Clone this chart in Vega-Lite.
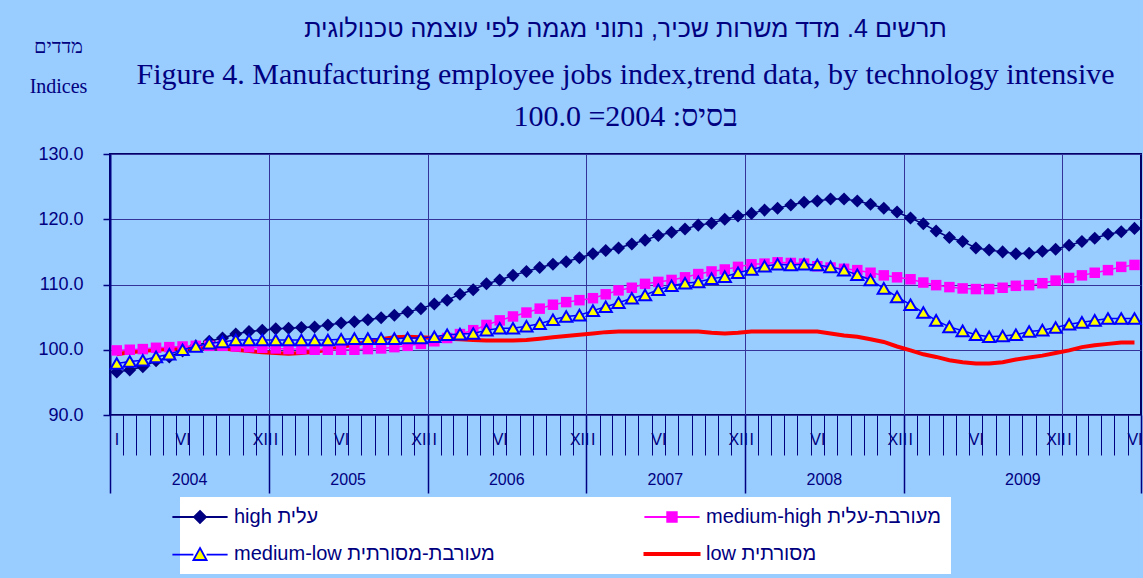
{
  "$schema": "https://vega.github.io/schema/vega-lite/v6.json",
  "width": 1031,
  "height": 261,
  "autosize": "none",
  "padding": {"left": 110, "top": 154, "right": 2, "bottom": 163},
  "background": "#99CCFF",
  "config": {
    "view": {"stroke": "#000066", "strokeWidth": 2, "fill": "white", "fillOpacity": 1},
    "font": "Liberation Sans",
    "axis": {"labelColor": "#000080", "tickColor": "#000080", "domainColor": "#000080", "gridColor": "#333399", "titleColor": "#000080", "labelFont": "Liberation Sans"}
  },
  "title": {
    "text": "\u202bתרשים 4. מדד משרות שכיר, נתוני מגמה לפי עוצמה טכנולוגית\u202c",
    "subtitle": ["Figure 4. Manufacturing employee jobs index,trend data, by technology intensive", "\u202bבסיס: 2004= 100.0\u202c"],
    "anchor": "middle",
    "frame": "group",
    "font": "Liberation Sans",
    "fontSize": 25,
    "fontWeight": "normal",
    "color": "#000080",
    "subtitleFont": "Liberation Serif",
    "subtitleFontSize": 30,
    "subtitleColor": "#000080",
    "subtitleLineHeight": 42,
    "subtitlePadding": 18,
    "offset": -96
  },
  "data": {
    "values": [
      {"d": "2004-01-01", "hi": 96.6, "mh": 99.9, "ml": 97.9, "lo": 99.3},
      {"d": "2004-02-01", "hi": 96.9, "mh": 100.0, "ml": 98.2, "lo": 99.6},
      {"d": "2004-03-01", "hi": 97.4, "mh": 100.1, "ml": 98.4, "lo": 99.8},
      {"d": "2004-04-01", "hi": 98.3, "mh": 100.3, "ml": 98.9, "lo": 100.0},
      {"d": "2004-05-01", "hi": 98.9, "mh": 100.4, "ml": 99.3, "lo": 100.1},
      {"d": "2004-06-01", "hi": 99.8, "mh": 100.5, "ml": 100.0, "lo": 100.2},
      {"d": "2004-07-01", "hi": 100.6, "mh": 100.6, "ml": 100.5, "lo": 100.3},
      {"d": "2004-08-01", "hi": 101.3, "mh": 100.6, "ml": 101.0, "lo": 100.3},
      {"d": "2004-09-01", "hi": 101.8, "mh": 100.6, "ml": 101.2, "lo": 100.2},
      {"d": "2004-10-01", "hi": 102.4, "mh": 100.5, "ml": 101.5, "lo": 100.0},
      {"d": "2004-11-01", "hi": 102.8, "mh": 100.4, "ml": 101.5, "lo": 99.8},
      {"d": "2004-12-01", "hi": 103.0, "mh": 100.3, "ml": 101.5, "lo": 99.6},
      {"d": "2005-01-01", "hi": 103.2, "mh": 100.2, "ml": 101.5, "lo": 99.5},
      {"d": "2005-02-01", "hi": 103.3, "mh": 100.1, "ml": 101.5, "lo": 99.4},
      {"d": "2005-03-01", "hi": 103.4, "mh": 100.1, "ml": 101.5, "lo": 99.5},
      {"d": "2005-04-01", "hi": 103.5, "mh": 100.0, "ml": 101.5, "lo": 99.7},
      {"d": "2005-05-01", "hi": 103.8, "mh": 100.0, "ml": 101.5, "lo": 100.0},
      {"d": "2005-06-01", "hi": 104.1, "mh": 100.0, "ml": 101.6, "lo": 100.4},
      {"d": "2005-07-01", "hi": 104.3, "mh": 100.0, "ml": 101.7, "lo": 100.8},
      {"d": "2005-08-01", "hi": 104.6, "mh": 100.1, "ml": 101.7, "lo": 101.2},
      {"d": "2005-09-01", "hi": 104.9, "mh": 100.2, "ml": 101.7, "lo": 101.6},
      {"d": "2005-10-01", "hi": 105.3, "mh": 100.4, "ml": 101.7, "lo": 101.9},
      {"d": "2005-11-01", "hi": 105.8, "mh": 100.6, "ml": 101.8, "lo": 102.0},
      {"d": "2005-12-01", "hi": 106.3, "mh": 100.9, "ml": 101.8, "lo": 101.9},
      {"d": "2006-01-01", "hi": 107.0, "mh": 101.3, "ml": 102.0, "lo": 101.8},
      {"d": "2006-02-01", "hi": 107.6, "mh": 101.8, "ml": 102.3, "lo": 101.7},
      {"d": "2006-03-01", "hi": 108.5, "mh": 102.4, "ml": 102.4, "lo": 101.6},
      {"d": "2006-04-01", "hi": 109.2, "mh": 103.0, "ml": 102.5, "lo": 101.5},
      {"d": "2006-05-01", "hi": 110.1, "mh": 103.8, "ml": 103.0, "lo": 101.4},
      {"d": "2006-06-01", "hi": 110.7, "mh": 104.5, "ml": 103.3, "lo": 101.4},
      {"d": "2006-07-01", "hi": 111.4, "mh": 105.1, "ml": 103.3, "lo": 101.4},
      {"d": "2006-08-01", "hi": 112.0, "mh": 105.7, "ml": 103.6, "lo": 101.5},
      {"d": "2006-09-01", "hi": 112.6, "mh": 106.3, "ml": 104.0, "lo": 101.7},
      {"d": "2006-10-01", "hi": 113.1, "mh": 106.9, "ml": 104.6, "lo": 101.9},
      {"d": "2006-11-01", "hi": 113.5, "mh": 107.3, "ml": 105.1, "lo": 102.1},
      {"d": "2006-12-01", "hi": 114.1, "mh": 107.6, "ml": 105.3, "lo": 102.3},
      {"d": "2007-01-01", "hi": 114.7, "mh": 107.9, "ml": 106.0, "lo": 102.5},
      {"d": "2007-02-01", "hi": 115.2, "mh": 108.5, "ml": 106.6, "lo": 102.7},
      {"d": "2007-03-01", "hi": 115.6, "mh": 109.1, "ml": 107.2, "lo": 102.8},
      {"d": "2007-04-01", "hi": 116.2, "mh": 109.5, "ml": 107.9, "lo": 102.8},
      {"d": "2007-05-01", "hi": 116.8, "mh": 110.1, "ml": 108.4, "lo": 102.8},
      {"d": "2007-06-01", "hi": 117.5, "mh": 110.4, "ml": 109.2, "lo": 102.8},
      {"d": "2007-07-01", "hi": 118.0, "mh": 110.7, "ml": 109.8, "lo": 102.8},
      {"d": "2007-08-01", "hi": 118.5, "mh": 111.1, "ml": 110.2, "lo": 102.8},
      {"d": "2007-09-01", "hi": 119.1, "mh": 111.6, "ml": 110.4, "lo": 102.8},
      {"d": "2007-10-01", "hi": 119.4, "mh": 112.0, "ml": 110.9, "lo": 102.6},
      {"d": "2007-11-01", "hi": 120.0, "mh": 112.3, "ml": 111.2, "lo": 102.5},
      {"d": "2007-12-01", "hi": 120.5, "mh": 112.7, "ml": 111.8, "lo": 102.6},
      {"d": "2008-01-01", "hi": 120.9, "mh": 113.1, "ml": 112.3, "lo": 102.8},
      {"d": "2008-02-01", "hi": 121.4, "mh": 113.2, "ml": 112.8, "lo": 102.8},
      {"d": "2008-03-01", "hi": 121.7, "mh": 113.4, "ml": 113.1, "lo": 102.8},
      {"d": "2008-04-01", "hi": 122.2, "mh": 113.3, "ml": 113.0, "lo": 102.8},
      {"d": "2008-05-01", "hi": 122.6, "mh": 113.2, "ml": 113.1, "lo": 102.8},
      {"d": "2008-06-01", "hi": 122.8, "mh": 112.8, "ml": 113.0, "lo": 102.8},
      {"d": "2008-07-01", "hi": 123.1, "mh": 112.6, "ml": 112.7, "lo": 102.5},
      {"d": "2008-08-01", "hi": 123.1, "mh": 112.4, "ml": 112.2, "lo": 102.2},
      {"d": "2008-09-01", "hi": 122.8, "mh": 112.2, "ml": 111.5, "lo": 102.0},
      {"d": "2008-10-01", "hi": 122.3, "mh": 111.8, "ml": 110.7, "lo": 101.6},
      {"d": "2008-11-01", "hi": 121.7, "mh": 111.4, "ml": 109.4, "lo": 101.2},
      {"d": "2008-12-01", "hi": 121.1, "mh": 111.1, "ml": 108.1, "lo": 100.5},
      {"d": "2009-01-01", "hi": 120.2, "mh": 110.8, "ml": 106.9, "lo": 99.9},
      {"d": "2009-02-01", "hi": 119.3, "mh": 110.3, "ml": 105.7, "lo": 99.3},
      {"d": "2009-03-01", "hi": 118.2, "mh": 109.9, "ml": 104.5, "lo": 98.9},
      {"d": "2009-04-01", "hi": 117.2, "mh": 109.6, "ml": 103.5, "lo": 98.4},
      {"d": "2009-05-01", "hi": 116.6, "mh": 109.4, "ml": 102.9, "lo": 98.1},
      {"d": "2009-06-01", "hi": 115.6, "mh": 109.3, "ml": 102.3, "lo": 97.9},
      {"d": "2009-07-01", "hi": 115.3, "mh": 109.3, "ml": 102.0, "lo": 97.9},
      {"d": "2009-08-01", "hi": 115.0, "mh": 109.5, "ml": 102.1, "lo": 98.1},
      {"d": "2009-09-01", "hi": 114.7, "mh": 109.8, "ml": 102.3, "lo": 98.5},
      {"d": "2009-10-01", "hi": 114.8, "mh": 109.9, "ml": 102.8, "lo": 98.8},
      {"d": "2009-11-01", "hi": 115.1, "mh": 110.2, "ml": 103.0, "lo": 99.1},
      {"d": "2009-12-01", "hi": 115.4, "mh": 110.6, "ml": 103.4, "lo": 99.5},
      {"d": "2010-01-01", "hi": 116.0, "mh": 111.0, "ml": 103.9, "lo": 99.9},
      {"d": "2010-02-01", "hi": 116.6, "mh": 111.4, "ml": 104.2, "lo": 100.4},
      {"d": "2010-03-01", "hi": 117.1, "mh": 111.8, "ml": 104.5, "lo": 100.7},
      {"d": "2010-04-01", "hi": 117.7, "mh": 112.2, "ml": 104.8, "lo": 100.9},
      {"d": "2010-05-01", "hi": 118.1, "mh": 112.7, "ml": 104.8, "lo": 101.1},
      {"d": "2010-06-01", "hi": 118.6, "mh": 113.0, "ml": 104.8, "lo": 101.1}
    ]
  },
  "resolve": {"axis": {"x": "independent"}},
  "layer": [
    {
      "mark": {"type": "line", "color": "#FF0000", "strokeWidth": 4},
      "encoding": {
        "x": {"field": "d", "timeUnit": "utcyearmonth", "type": "temporal", "bandPosition": 0.5,
          "scale": {"type": "utc", "nice": false, "domain": [{"year": 2004, "month": 1, "date": 1, "utc": true}, {"year": 2010, "month": 7, "date": 1, "utc": true}]},
          "axis": {"orient": "bottom", "tickCount": {"interval": "month", "step": 1}, "labels": false, "ticks": true, "tickSize": 40, "tickWidth": 1, "tickColor": "#000080", "domain": false, "grid": false, "title": null}},
        "y": {"field": "lo", "type": "quantitative", "scale": {"domain": [90, 130], "nice": false, "zero": false},
          "axis": {"values": [90, 100, 110, 120, 130], "format": ".1f", "labelFontSize": 18, "labelColor": "#000080", "labelPadding": 20, "tickSize": 7, "tickWidth": 1.5, "tickColor": "#000080", "domainColor": "#000080", "domainWidth": 2, "grid": true, "gridColor": "#333399", "gridWidth": 1,
            "title": ["מדדים", "Indices"], "titleAngle": 0, "titleX": -52, "titleY": -118, "titleAlign": "center", "titleBaseline": "top", "titleFont": "Liberation Serif", "titleFontSize": 20, "titleFontWeight": "normal", "titleLineHeight": 40, "titleColor": "#000080"}}
      }
    },
    {
      "mark": {"type": "line", "color": "#000080", "strokeWidth": 1.5},
      "encoding": {
        "x": {"field": "d", "timeUnit": "utcyearmonth", "type": "temporal", "bandPosition": 0.5,
          "scale": {"type": "utc", "nice": false, "domain": [{"year": 2004, "month": 1, "date": 1, "utc": true}, {"year": 2010, "month": 7, "date": 1, "utc": true}]},
          "axis": {"orient": "bottom", "values": [{"year": 2005, "month": 1, "date": 1, "utc": true}, {"year": 2006, "month": 1, "date": 1, "utc": true}, {"year": 2007, "month": 1, "date": 1, "utc": true}, {"year": 2008, "month": 1, "date": 1, "utc": true}, {"year": 2009, "month": 1, "date": 1, "utc": true}, {"year": 2010, "month": 1, "date": 1, "utc": true}],
            "grid": true, "gridColor": "#333399", "gridWidth": 1, "ticks": false, "labels": false, "domain": false, "title": null}},
        "y": {"field": "hi", "type": "quantitative", "scale": {"domain": [90, 130], "nice": false, "zero": false},
          "axis": {"values": [90, 100, 110, 120, 130], "format": ".1f", "labelFontSize": 18, "labelColor": "#000080", "labelPadding": 20, "tickSize": 7, "tickWidth": 1.5, "tickColor": "#000080", "domainColor": "#000080", "domainWidth": 2, "grid": true, "gridColor": "#333399", "gridWidth": 1,
            "title": ["מדדים", "Indices"], "titleAngle": 0, "titleX": -52, "titleY": -118, "titleAlign": "center", "titleBaseline": "top", "titleFont": "Liberation Serif", "titleFontSize": 20, "titleFontWeight": "normal", "titleLineHeight": 40, "titleColor": "#000080"}}
      }
    },
    {
      "mark": {"type": "point", "shape": "diamond", "filled": true, "opacity": 1, "color": "#000080", "size": 170},
      "encoding": {
        "x": {"field": "d", "timeUnit": "utcyearmonth", "type": "temporal", "bandPosition": 0.5,
          "scale": {"type": "utc", "nice": false, "domain": [{"year": 2004, "month": 1, "date": 1, "utc": true}, {"year": 2010, "month": 7, "date": 1, "utc": true}]},
          "axis": {"orient": "bottom", "values": [{"year": 2004, "month": 1, "date": 1, "utc": true}, {"year": 2005, "month": 1, "date": 1, "utc": true}, {"year": 2006, "month": 1, "date": 1, "utc": true}, {"year": 2007, "month": 1, "date": 1, "utc": true}, {"year": 2008, "month": 1, "date": 1, "utc": true}, {"year": 2009, "month": 1, "date": 1, "utc": true}, {"year": 2010, "month": 7, "date": 1, "utc": true}],
            "ticks": true, "tickSize": 78, "tickWidth": 1.5, "tickColor": "#000080", "labels": false, "domain": false, "grid": false, "title": null}},
        "y": {"field": "hi", "type": "quantitative", "scale": {"domain": [90, 130], "nice": false, "zero": false},
          "axis": {"values": [90, 100, 110, 120, 130], "format": ".1f", "labelFontSize": 18, "labelColor": "#000080", "labelPadding": 20, "tickSize": 7, "tickWidth": 1.5, "tickColor": "#000080", "domainColor": "#000080", "domainWidth": 2, "grid": true, "gridColor": "#333399", "gridWidth": 1,
            "title": ["מדדים", "Indices"], "titleAngle": 0, "titleX": -52, "titleY": -118, "titleAlign": "center", "titleBaseline": "top", "titleFont": "Liberation Serif", "titleFontSize": 20, "titleFontWeight": "normal", "titleLineHeight": 40, "titleColor": "#000080"}}
      }
    },
    {
      "mark": {"type": "line", "color": "#FF00FF", "strokeWidth": 1.5},
      "encoding": {
        "x": {"field": "d", "timeUnit": "utcyearmonth", "type": "temporal", "bandPosition": 0.5,
          "scale": {"type": "utc", "nice": false, "domain": [{"year": 2004, "month": 1, "date": 1, "utc": true}, {"year": 2010, "month": 7, "date": 1, "utc": true}]},
          "axis": {"orient": "bottom", "values": [
              {"year": 2004, "month": 1, "date": 16, "utc": true}, {"year": 2004, "month": 6, "date": 16, "utc": true}, {"year": 2004, "month": 12, "date": 16, "utc": true},
              {"year": 2005, "month": 1, "date": 16, "utc": true}, {"year": 2005, "month": 6, "date": 16, "utc": true}, {"year": 2005, "month": 12, "date": 16, "utc": true},
              {"year": 2006, "month": 1, "date": 16, "utc": true}, {"year": 2006, "month": 6, "date": 16, "utc": true}, {"year": 2006, "month": 12, "date": 16, "utc": true},
              {"year": 2007, "month": 1, "date": 16, "utc": true}, {"year": 2007, "month": 6, "date": 16, "utc": true}, {"year": 2007, "month": 12, "date": 16, "utc": true},
              {"year": 2008, "month": 1, "date": 16, "utc": true}, {"year": 2008, "month": 6, "date": 16, "utc": true}, {"year": 2008, "month": 12, "date": 16, "utc": true},
              {"year": 2009, "month": 1, "date": 16, "utc": true}, {"year": 2009, "month": 6, "date": 16, "utc": true}, {"year": 2009, "month": 12, "date": 16, "utc": true},
              {"year": 2010, "month": 1, "date": 16, "utc": true}, {"year": 2010, "month": 6, "date": 16, "utc": true}],
            "labelExpr": "utcmonth(datum.value) == 0 ? 'I' : (utcmonth(datum.value) == 5 ? 'VI' : 'XII')",
            "ticks": false, "domain": false, "grid": false, "labelPadding": 16, "labelFontSize": 16, "labelColor": "#000080", "labelFlush": false, "labelOverlap": false, "labelBound": false, "title": null}},
        "y": {"field": "mh", "type": "quantitative", "scale": {"domain": [90, 130], "nice": false, "zero": false},
          "axis": {"values": [90, 100, 110, 120, 130], "format": ".1f", "labelFontSize": 18, "labelColor": "#000080", "labelPadding": 20, "tickSize": 7, "tickWidth": 1.5, "tickColor": "#000080", "domainColor": "#000080", "domainWidth": 2, "grid": true, "gridColor": "#333399", "gridWidth": 1,
            "title": ["מדדים", "Indices"], "titleAngle": 0, "titleX": -52, "titleY": -118, "titleAlign": "center", "titleBaseline": "top", "titleFont": "Liberation Serif", "titleFontSize": 20, "titleFontWeight": "normal", "titleLineHeight": 40, "titleColor": "#000080"}}
      }
    },
    {
      "mark": {"type": "point", "shape": "square", "filled": true, "opacity": 1, "color": "#FF00FF", "size": 110},
      "encoding": {
        "x": {"field": "d", "timeUnit": "utcyearmonth", "type": "temporal", "bandPosition": 0.5,
          "scale": {"type": "utc", "nice": false, "domain": [{"year": 2004, "month": 1, "date": 1, "utc": true}, {"year": 2010, "month": 7, "date": 1, "utc": true}]}, "axis": null},
        "y": {"field": "mh", "type": "quantitative", "scale": {"domain": [90, 130], "nice": false, "zero": false},
          "axis": {"values": [90, 100, 110, 120, 130], "format": ".1f", "labelFontSize": 18, "labelColor": "#000080", "labelPadding": 20, "tickSize": 7, "tickWidth": 1.5, "tickColor": "#000080", "domainColor": "#000080", "domainWidth": 2, "grid": true, "gridColor": "#333399", "gridWidth": 1,
            "title": ["מדדים", "Indices"], "titleAngle": 0, "titleX": -52, "titleY": -118, "titleAlign": "center", "titleBaseline": "top", "titleFont": "Liberation Serif", "titleFontSize": 20, "titleFontWeight": "normal", "titleLineHeight": 40, "titleColor": "#000080"}}
      }
    },
    {
      "mark": {"type": "line", "color": "#0000FF", "strokeWidth": 1.5},
      "encoding": {
        "x": {"field": "d", "timeUnit": "utcyearmonth", "type": "temporal", "bandPosition": 0.5,
          "scale": {"type": "utc", "nice": false, "domain": [{"year": 2004, "month": 1, "date": 1, "utc": true}, {"year": 2010, "month": 7, "date": 1, "utc": true}]},
          "axis": {"orient": "bottom", "values": [{"year": 2004, "month": 7, "date": 1, "utc": true}, {"year": 2005, "month": 7, "date": 1, "utc": true}, {"year": 2006, "month": 7, "date": 1, "utc": true}, {"year": 2007, "month": 7, "date": 1, "utc": true}, {"year": 2008, "month": 7, "date": 1, "utc": true}, {"year": 2009, "month": 10, "date": 1, "utc": true}],
            "format": "%Y", "ticks": false, "domain": false, "grid": false, "labelPadding": 56, "labelFontSize": 16, "labelColor": "#000080", "labelFlush": false, "labelOverlap": false, "labelBound": false, "title": null}},
        "y": {"field": "ml", "type": "quantitative", "scale": {"domain": [90, 130], "nice": false, "zero": false},
          "axis": {"values": [90, 100, 110, 120, 130], "format": ".1f", "labelFontSize": 18, "labelColor": "#000080", "labelPadding": 20, "tickSize": 7, "tickWidth": 1.5, "tickColor": "#000080", "domainColor": "#000080", "domainWidth": 2, "grid": true, "gridColor": "#333399", "gridWidth": 1,
            "title": ["מדדים", "Indices"], "titleAngle": 0, "titleX": -52, "titleY": -118, "titleAlign": "center", "titleBaseline": "top", "titleFont": "Liberation Serif", "titleFontSize": 20, "titleFontWeight": "normal", "titleLineHeight": 40, "titleColor": "#000080"}}
      }
    },
    {
      "mark": {"type": "point", "shape": "triangle-up", "filled": true, "opacity": 1, "fill": "#FFFF00", "stroke": "#0000FF", "strokeWidth": 2, "size": 150},
      "encoding": {
        "x": {"field": "d", "timeUnit": "utcyearmonth", "type": "temporal", "bandPosition": 0.5,
          "scale": {"type": "utc", "nice": false, "domain": [{"year": 2004, "month": 1, "date": 1, "utc": true}, {"year": 2010, "month": 7, "date": 1, "utc": true}]}, "axis": null},
        "y": {"field": "ml", "type": "quantitative", "scale": {"domain": [90, 130], "nice": false, "zero": false},
          "axis": {"values": [90, 100, 110, 120, 130], "format": ".1f", "labelFontSize": 18, "labelColor": "#000080", "labelPadding": 20, "tickSize": 7, "tickWidth": 1.5, "tickColor": "#000080", "domainColor": "#000080", "domainWidth": 2, "grid": true, "gridColor": "#333399", "gridWidth": 1,
            "title": ["מדדים", "Indices"], "titleAngle": 0, "titleX": -52, "titleY": -118, "titleAlign": "center", "titleBaseline": "top", "titleFont": "Liberation Serif", "titleFontSize": 20, "titleFontWeight": "normal", "titleLineHeight": 40, "titleColor": "#000080"}}
      }
    },
    {
      "transform": [{"filter": "false"}],
      "mark": {"type": "point", "filled": true, "opacity": 1, "strokeWidth": 1.8},
      "encoding": {
        "shape": {"field": "s", "type": "nominal",
          "scale": {"domain": ["hi", "ml", "mh", "lo"], "range": ["M-4.6,0L-1,0M1,0L4.6,0M0,-1L1,0L0,1L-1,0Z", "M-4.6,0.1L-1.1,0.1M1.1,0.1L4.6,0.1M0,-1L1.1,1L-1.1,1Z", "M-4.6,0L-0.8,0M0.8,0L4.6,0M-0.8,-0.8L0.8,-0.8L0.8,0.8L-0.8,0.8Z", "M-4.6,-0.2L4.6,-0.2L4.6,0.2L-4.6,0.2Z"]},
          "legend": {"title": null, "orient": "none", "legendX": 70, "legendY": 343, "columns": 2, "columnPadding": 145, "rowPadding": 17, "padding": 10, "fillColor": "white", "symbolSize": 144, "symbolStrokeWidth": 1.8, "labelFont": "Liberation Sans", "labelFontSize": 20, "labelColor": "#000080", "labelOffset": 24, "labelLimit": 0,
            "labelExpr": "datum.value == 'hi' ? 'high עלית' : (datum.value == 'mh' ? 'medium-high מעורבת-עלית' : (datum.value == 'ml' ? 'medium-low מעורבת-מסורתית' : 'low מסורתית'))"}},
        "fill": {"field": "s", "type": "nominal",
          "scale": {"domain": ["hi", "ml", "mh", "lo"], "range": ["#000080", "#FFFF00", "#FF00FF", "#FF0000"]},
          "legend": {"title": null, "orient": "none", "legendX": 70, "legendY": 343, "columns": 2, "columnPadding": 145, "rowPadding": 17, "padding": 10, "fillColor": "white", "symbolSize": 144, "symbolStrokeWidth": 1.8, "labelFont": "Liberation Sans", "labelFontSize": 20, "labelColor": "#000080", "labelOffset": 24, "labelLimit": 0,
            "labelExpr": "datum.value == 'hi' ? 'high עלית' : (datum.value == 'mh' ? 'medium-high מעורבת-עלית' : (datum.value == 'ml' ? 'medium-low מעורבת-מסורתית' : 'low מסורתית'))"}},
        "stroke": {"field": "s", "type": "nominal",
          "scale": {"domain": ["hi", "ml", "mh", "lo"], "range": ["#000080", "#0000FF", "#FF00FF", "#FF0000"]},
          "legend": {"title": null, "orient": "none", "legendX": 70, "legendY": 343, "columns": 2, "columnPadding": 145, "rowPadding": 17, "padding": 10, "fillColor": "white", "symbolSize": 144, "symbolStrokeWidth": 1.8, "labelFont": "Liberation Sans", "labelFontSize": 20, "labelColor": "#000080", "labelOffset": 24, "labelLimit": 0,
            "labelExpr": "datum.value == 'hi' ? 'high עלית' : (datum.value == 'mh' ? 'medium-high מעורבת-עלית' : (datum.value == 'ml' ? 'medium-low מעורבת-מסורתית' : 'low מסורתית'))"}}
      }
    }
  ]
}
